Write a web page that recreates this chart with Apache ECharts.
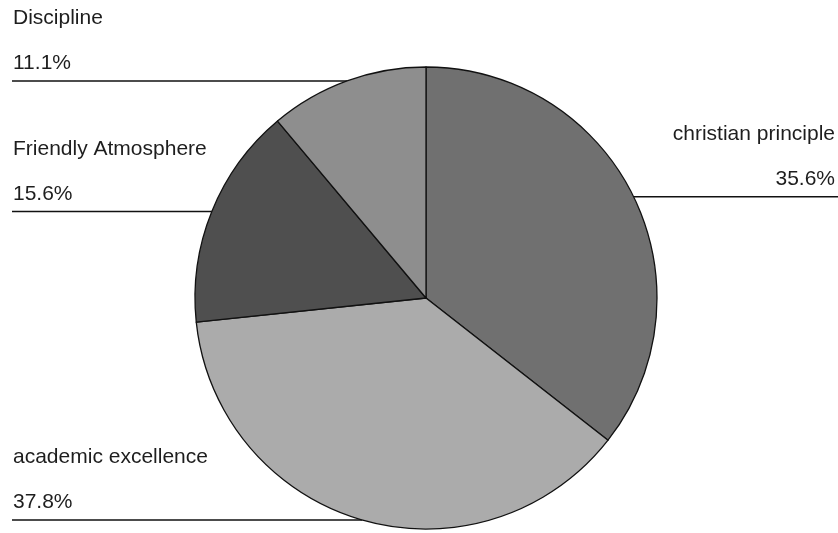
<!DOCTYPE html>
<html>
<head>
<meta charset="utf-8">
<script src="https://cdn.jsdelivr.net/npm/echarts@6/dist/echarts.min.js"></script>
<style>
  html, body { margin: 0; padding: 0; background: #fff; }
  #chart { width: 838px; height: 533px; }
</style>
</head>
<body>
<div id="chart"></div>
<script>
// Reasons for choosing the school (responses, n = 45)
const categories = ['christian principle', 'academic excellence', 'Friendly Atmosphere', 'Discipline'];
const responses = [16, 17, 7, 5];
const percentLabels = ['35.6%', '37.8%', '15.6%', '11.1%'];
const sliceColors = ['#707070', '#ababab', '#4f4f4f', '#8e8e8e'];

const chart = echarts.init(document.getElementById('chart'), null, { renderer: 'canvas' });

const W = 838;
const FONT = 'Liberation Sans, Arial, sans-serif';
const data = categories.map((name, i) => ({
  name: name,
  value: responses[i],
  itemStyle: { color: sliceColors[i] },
  pct: percentLabels[i]
}));

chart.setOption({
  animation: false,
  backgroundColor: '#ffffff',
  series: [{
    type: 'pie',
    center: [426, 298],
    radius: 231,
    startAngle: 90,
    clockwise: true,
    avoidLabelOverlap: false,
    data: data,
    itemStyle: { borderColor: '#111', borderWidth: 1.3 },
    label: {
      show: true,
      position: 'outside',
      fontFamily: FONT,
      fontSize: 21,
      color: '#1e1e1e',
      formatter: p => '{n|' + p.name + '}\n{p|' + p.data.pct + '}',
      rich: {
        n: { fontSize: 21, lineHeight: 45, color: '#1e1e1e', fontFamily: FONT },
        p: { fontSize: 21, lineHeight: 45, color: '#1e1e1e', fontFamily: FONT }
      }
    },
    labelLine: {
      show: true,
      length: 0,
      length2: 10,
      smooth: false,
      lineStyle: { color: '#111', width: 1.6 }
    },
    labelLayout: function (params) {
      const pts = params.labelLinePoints;
      if (!pts) return {};
      const start = pts[0];
      const isRight = start[0] > 426;
      const endX = isRight ? W : 12;
      return {
        x: isRight ? W - 3 : 13,
        y: start[1] + 5,
        align: isRight ? 'right' : 'left',
        verticalAlign: 'bottom',
        labelLinePoints: [[start[0], start[1]], [start[0], start[1]], [endX, start[1]]]
      };
    }
  }]
});
</script>
</body>
</html>
